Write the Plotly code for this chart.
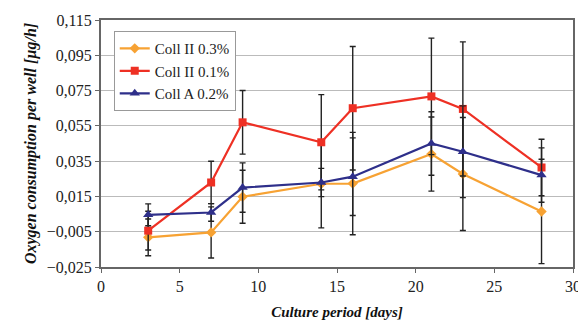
import plotly.graph_objects as go

days = [3, 7, 9, 14, 16, 21, 23, 28]

coll2_03 = [-0.0082, -0.0054, 0.0148, 0.0222, 0.0223, 0.0390, 0.0277, 0.0065]
coll2_03_err = [0.0104, 0.0145, 0.0150, 0.0250, 0.0290, 0.0210, 0.0320, 0.0296]

coll2_01 = [-0.0044, 0.0229, 0.0570, 0.0457, 0.0650, 0.0717, 0.0646, 0.0314]
coll2_01_err = [0.0110, 0.0120, 0.0180, 0.0270, 0.0350, 0.0330, 0.0380, 0.0160]

collA_02 = [0.0046, 0.0059, 0.0200, 0.0229, 0.0262, 0.0450, 0.0403, 0.0271]
collA_02_err = [0.0062, 0.0050, 0.0140, 0.0080, 0.0220, 0.0180, 0.0260, 0.0154]

y_ticks = [-0.025, -0.005, 0.015, 0.035, 0.055, 0.075, 0.095, 0.115]
x_ticks = [0, 5, 10, 15, 20, 25, 30]

series = [
    ("Coll II 0.3%", coll2_03, coll2_03_err, "#F7A233", "diamond", 8),
    ("Coll II 0.1%", coll2_01, coll2_01_err, "#EE3024", "square", 8),
    ("Coll A 0.2%", collA_02, collA_02_err, "#2E2F8A", "triangle-up", 9),
]

fig = go.Figure()
for name, vals, errs, col, sym, sz in series:
    fig.add_trace(go.Scatter(
        x=days, y=vals, name=name, mode="lines+markers",
        line=dict(color=col, width=2.2),
        marker=dict(symbol=sym, size=sz, color=col),
        error_y=dict(type="data", array=errs, visible=True,
                     color="#222222", thickness=1.4, width=3),
    ))

serif = "Liberation Serif"
fig.update_layout(
    width=578, height=314,
    margin=dict(l=93, r=13, t=12, b=55, autoexpand=False),
    paper_bgcolor="white", plot_bgcolor="white",
    separators=",.",
    font=dict(family=serif, size=16, color="#222222"),
    showlegend=True,
    legend=dict(
        x=0.027, y=0.955, xanchor="left", yanchor="top",
        bgcolor="white", bordercolor="#999999", borderwidth=1,
        font=dict(family=serif, size=15, color="#222222"),
        tracegroupgap=0, itemwidth=30,
    ),
    xaxis=dict(
        range=[0, 30], tickvals=x_ticks, ticks="outside", ticklen=4,
        tickcolor="#666666", showgrid=False, zeroline=False,
        showline=True, linecolor="#666666", linewidth=2, mirror=True,
        automargin=False,
        tickfont=dict(family=serif, size=16, color="#222222"),
        title=dict(text="<b><i>Culture period [days]</i></b>",
                   font=dict(family=serif, size=15, color="#111111"),
                   standoff=12),
    ),
    yaxis=dict(
        range=[-0.025, 0.115], tickvals=y_ticks, tickformat=".3f",
        ticks="outside", ticklen=4, tickcolor="#666666",
        showgrid=True, gridcolor="#BBBBBB", gridwidth=1, zeroline=False,
        showline=True, linecolor="#666666", linewidth=2, mirror=True,
        automargin=False,
        tickfont=dict(family=serif, size=16, color="#222222"),
        title=dict(text="<b><i>Oxygen consumption per well [µg/h]</i></b>",
                   font=dict(family=serif, size=16, color="#111111"),
                   standoff=6),
    ),
)

fig.write_html("out.html")
